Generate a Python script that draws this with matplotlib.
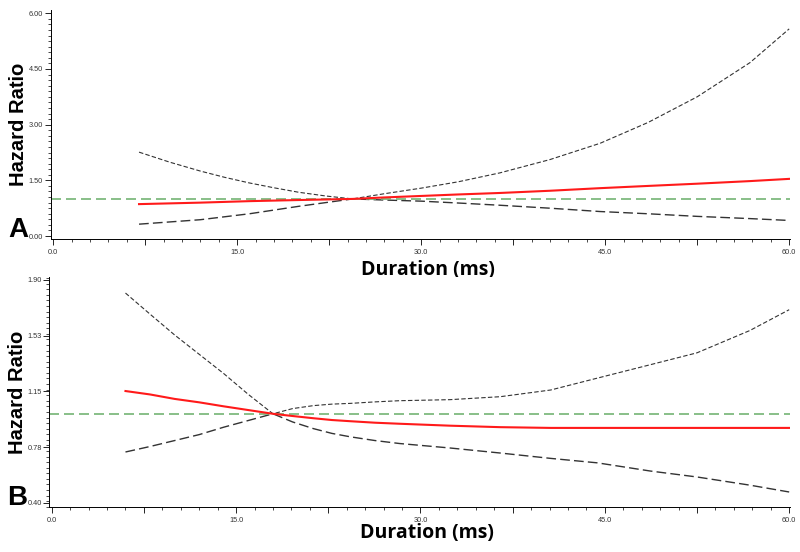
import matplotlib.pyplot as plt
from matplotlib.ticker import FixedLocator, MultipleLocator

# Panel A
dur_a = [7, 9.5, 12, 14, 16, 18, 20, 22.2, 24.4, 27, 30, 33, 36.4, 40.5, 44.6, 48.5, 52.5, 56.8, 60]
hr_a = [0.86, 0.88, 0.90, 0.92, 0.94, 0.955, 0.97, 0.985, 1.0, 1.04, 1.08, 1.12, 1.16, 1.22, 1.29, 1.35, 1.41, 1.48, 1.54]
upper_a = [2.26, 1.99, 1.75, 1.58, 1.43, 1.30, 1.18, 1.08, 1.0, 1.14, 1.29, 1.46, 1.70, 2.06, 2.50, 3.06, 3.75, 4.67, 5.58]
lower_a = [0.32, 0.38, 0.44, 0.52, 0.60, 0.70, 0.80, 0.90, 1.0, 0.97, 0.94, 0.89, 0.83, 0.75, 0.66, 0.60, 0.53, 0.47, 0.42]
yticks_a = [0.0, 1.5, 3.0, 4.5, 6.0]
ylabels_a = ['0.00', '1.50', '3.00', '4.50', '6.00']

# Panel B
dur_b = [6, 8, 10, 12, 14, 16, 18, 19.6, 21.3, 22.8, 24.3, 26.3, 28.3, 32.4, 36.5, 40.6, 44.4, 48.7, 52.5, 56.8, 60]
hr_b = [1.153, 1.13, 1.10, 1.077, 1.05, 1.025, 1.0, 0.985, 0.97, 0.958, 0.95, 0.94, 0.933, 0.92, 0.91, 0.905, 0.905, 0.905, 0.905, 0.905, 0.905]
upper_b = [1.812, 1.67, 1.53, 1.40, 1.27, 1.13, 1.0, 1.035, 1.055, 1.065, 1.07, 1.08, 1.088, 1.095, 1.115, 1.16, 1.24, 1.33, 1.41, 1.56, 1.70]
lower_b = [0.743, 0.78, 0.82, 0.86, 0.91, 0.955, 1.0, 0.945, 0.90, 0.868, 0.845, 0.82, 0.80, 0.77, 0.736, 0.70, 0.67, 0.615, 0.575, 0.52, 0.474]
yticks_b = [0.40, 0.775, 1.15, 1.525, 1.90]
ylabels_b = ['0.40', '0.78', '1.15', '1.53', '1.90']

xticks = [0, 7.5, 15, 22.5, 30, 37.5, 45, 52.5, 60]
xlabels = ['0.0', '', '15.0', '', '30.0', '', '45.0', '', '60.0']

label_font = ['Open Sans', 'DejaVu Sans']
arial = ['Liberation Sans', 'DejaVu Sans']


def panel(ax, x, hr, up, lo, ylim, yt, yl, ystep, letter, xlab_y):
    ax.plot(x, up, color='#333333', lw=0.8, dashes=(4, 2))
    ax.plot(x, lo, color='#333333', lw=1.0, dashes=(7, 3))
    ax.axhline(1.0, color='#74b474', lw=1.2, dashes=(6, 3))
    ax.plot(x, hr, color='#ff1a1a', lw=1.5)
    ax.annotate('Hazard Ratio=1.0', xy=(60.2, 1.0), xytext=(0, 2),
                textcoords='offset pixels', ha='right', va='baseline',
                fontsize=8.8, fontweight='bold', family=label_font)

    ax.set_xlim(-0.2, 60.1)
    ax.set_ylim(*ylim)
    ax.xaxis.set_major_locator(FixedLocator(xticks))
    ax.set_xticklabels(xlabels)
    ax.xaxis.set_minor_locator(MultipleLocator(1.5))
    ax.yaxis.set_major_locator(FixedLocator(yt))
    ax.set_yticklabels(yl)
    ax.yaxis.set_minor_locator(MultipleLocator(ystep))
    ax.tick_params(which='major', length=4, width=0.6, labelsize=5.3,
                   labelcolor='#333333')
    ax.tick_params(axis='x', which='major', pad=3.5)
    ax.tick_params(axis='y', which='major', pad=1.5)
    ax.tick_params(which='minor', length=2, width=0.5)
    for lab in ax.get_xticklabels() + ax.get_yticklabels():
        lab.set_family(arial)
    for s in ['top', 'right']:
        ax.spines[s].set_visible(False)
    for s in ['left', 'bottom']:
        ax.spines[s].set_linewidth(0.7)

    # y label: baseline placed just left of the tick labels
    ax.text(-0.0355, 0.5, 'Hazard Ratio', transform=ax.transAxes, rotation=90,
            rotation_mode='anchor', ha='center', va='baseline',
            fontsize=14.5, fontweight='bold', family=arial)
    ax.text(0.51, xlab_y, 'Duration (ms)', transform=ax.transAxes,
            ha='center', va='center', fontsize=14, fontweight='bold',
            family=label_font)
    ax.text(-0.0435, 0.009, letter, transform=ax.transAxes, ha='center',
            va='baseline', fontsize=20, fontweight='bold', family=arial)


fig = plt.figure(figsize=(8, 5.52), dpi=100)
ax_a = fig.add_axes([0.0634, 0.567, 0.9246, 0.4143])
ax_b = fig.add_axes([0.0616, 0.0815, 0.9264, 0.4167])

panel(ax_a, dur_a, hr_a, upper_a, lower_a, (-0.08, 6.08), yticks_a, ylabels_a,
      0.15, 'A', -0.135)
panel(ax_b, dur_b, hr_b, upper_b, lower_b, (0.373, 1.92), yticks_b, ylabels_b,
      0.0375, 'B', -0.113)

fig.savefig('out.png', dpi=100)
